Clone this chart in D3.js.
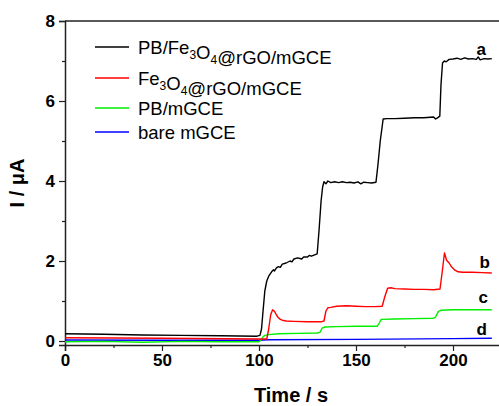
<!DOCTYPE html>
<html><head><meta charset="utf-8">
<script src="https://cdn.jsdelivr.net/npm/d3@7"></script>
<style>body{margin:0;background:#fff}svg{display:block}</style>
</head><body>
<svg id="c" width="499" height="406"></svg>
<script>
const seriesNames = ["PB/Fe3O4@rGO/mGCE","Fe3O4@rGO/mGCE","PB/mGCE","bare mGCE"];
const curveLabels = ["a","b","c","d"];
const colors = ["#000000","#ff0000","#00ee00","#0000ff"];
const xTicks = [0,50,100,150,200];
const yTicks = [0,2,4,6,8];

const curveA = [[0,0.18],[20,0.17],[40,0.15],[60,0.14],[80,0.13],[99,0.12],[100.5,0.14],[101.3,0.3],[102,0.7],[103,1.25],[104,1.5],[105,1.62],[106.5,1.73],[107.5,1.78],[108,1.75],[109,1.83],[110,1.86],[111,1.84],[112,1.92],[114,1.95],[116,2.0],[117,1.98],[118,2.05],[120,2.08],[122,2.05],[123,2.1],[125,2.1],[126,2.14],[127,2.12],[129,2.16],[130,2.18],[131,2.8],[132,3.5],[132.8,3.85],[133.5,3.98],[134.5,3.93],[135.5,4.0],[137,3.96],[139,3.98],[141,3.96],[143,3.98],[145,3.96],[147,3.97],[149,3.95],[151,3.98],[152.5,3.93],[154,3.97],[156,3.96],[158,3.95],[160.3,3.97],[161.3,4.4],[162.5,5.0],[164,5.55],[166,5.56],[170,5.56],[175,5.57],[180,5.58],[185,5.58],[190,5.6],[191,5.55],[192,5.58],[193.2,5.62],[193.8,6.4],[194.6,6.95],[195.5,7.0],[196.5,6.98],[198,7.04],[200,7.05],[202,7.07],[204,7.04],[206,7.08],[208,7.05],[210,7.06],[212,7.04],[213,7.1],[214,7.03],[216,7.06],[218,7.05],[220,7.06]];
const curveB = [[0,0.08],[50,0.07],[100,0.05],[104,0.05],[105,0.3],[106,0.65],[107,0.78],[108,0.74],[109,0.65],[110,0.58],[111,0.54],[112,0.52],[114,0.5],[118,0.49],[125,0.48],[132,0.48],[133.5,0.5],[134.5,0.75],[135.5,0.83],[137,0.84],[140,0.87],[145,0.88],[150,0.87],[155,0.86],[160,0.86],[163.5,0.87],[164.8,1.1],[166.3,1.32],[168,1.33],[170,1.31],[175,1.3],[180,1.29],[185,1.29],[190,1.28],[193.3,1.3],[194.5,1.75],[195.6,2.2],[196.7,2.02],[198,1.95],[199,1.87],[200,1.82],[201,1.77],[202.6,1.73],[205,1.72],[210,1.72],[215,1.71],[220,1.7]];
const curveC = [[0,-0.02],[20,-0.01],[40,-0.03],[60,-0.01],[80,-0.02],[100,-0.02],[101,0.02],[102,0.1],[103,0.14],[105,0.16],[110,0.18],[120,0.19],[130,0.2],[131.5,0.22],[132.5,0.32],[134,0.35],[140,0.36],[150,0.37],[161,0.37],[162,0.45],[163,0.54],[170,0.55],[180,0.56],[190,0.57],[191,0.6],[192.5,0.74],[194,0.77],[200,0.78],[210,0.78],[220,0.78]];
const curveD = [[0,0.025],[50,0.02],[100,0.02],[105,0.03],[150,0.04],[200,0.06],[220,0.07]];
const curves = [curveA, curveB, curveC, curveD];
const labelPos = [[217,7.15],[219,1.83],[218,0.95],[217.5,0.15]];

const svg = d3.select("#c");
const x = d3.scaleLinear().domain([0,225]).range([65,501.5]);
const y = d3.scaleLinear().domain([-0.1,8]).range([345,21]);
const font = "Arial, 'Liberation Sans', sans-serif";

// frame
svg.append("line").attr("x1",x(0)).attr("x2",499).attr("y1",y(8)).attr("y2",y(8)).attr("stroke","#222").attr("stroke-width",1.5);

svg.append("g").attr("transform",`translate(0,${y(-0.1)})`)
  .call(d3.axisBottom(x).tickValues(xTicks).tickSize(6).tickPadding(3).tickFormat(d3.format("d")));
svg.append("g").attr("transform",`translate(0,${y(-0.1)})`)
  .call(d3.axisBottom(x).tickValues([25,75,125,175,225]).tickSize(3).tickFormat(""))
  .select(".domain").remove();
svg.append("g").attr("transform",`translate(${x(0)},0)`)
  .call(d3.axisLeft(y).tickValues(yTicks).tickSize(6).tickPadding(4).tickFormat(d3.format("d")));
svg.append("g").attr("transform",`translate(${x(0)},0)`)
  .call(d3.axisLeft(y).tickValues([1,3,5,7]).tickSize(3).tickFormat(""))
  .select(".domain").remove();
svg.selectAll(".domain").attr("stroke","#222").attr("stroke-width",1.5);
svg.selectAll(".tick line").attr("stroke","#222").attr("stroke-width",1.2);
svg.selectAll(".tick text").attr("font-family",font).attr("font-weight","bold").attr("font-size",17).attr("fill","#000");

const line = d3.line().x(d=>x(d[0])).y(d=>y(d[1]));
curves.slice().reverse().forEach((c,i)=>{
  const k = curves.length-1-i;
  svg.append("path").datum(c).attr("d",line).attr("fill","none").attr("stroke",colors[k]).attr("stroke-width",1.4).attr("stroke-linejoin","round");
});

curveLabels.forEach((l,i)=>{
  svg.append("text").attr("x",x(labelPos[i][0])).attr("y",y(labelPos[i][1])).attr("text-anchor","end")
    .attr("font-family",font).attr("font-weight","bold").attr("font-size",17).text(l);
});

// legend
const legY = [47,78,108,132];
seriesNames.forEach((n,i)=>{
  svg.append("line").attr("x1",95).attr("x2",129).attr("y1",legY[i]).attr("y2",legY[i]).attr("stroke",colors[i]).attr("stroke-width",1.4);
  const t = svg.append("text").attr("x",138).attr("y",legY[i]+6.5).attr("font-family",font).attr("font-size",18.5).attr("fill","#000");
  const parts = n.split(/(\d)/);
  parts.forEach(p=>{
    if(/^\d$/.test(p)){
      t.append("tspan").attr("font-size",12).attr("dy",5).text(p);
      t.append("tspan").attr("dy",-5).text("");
    } else if(p) t.append("tspan").text(p);
  });
});

svg.append("text").attr("x",291).attr("y",402).attr("text-anchor","middle").attr("font-family",font).attr("font-weight","bold").attr("font-size",20).text("Time / s");
svg.append("text").attr("transform",`translate(24,${(y(8)+y(-0.1))/2}) rotate(-90)`).attr("text-anchor","middle").attr("font-family",font).attr("font-weight","bold").attr("font-size",20).text("I / μA");
</script>
</body></html>
